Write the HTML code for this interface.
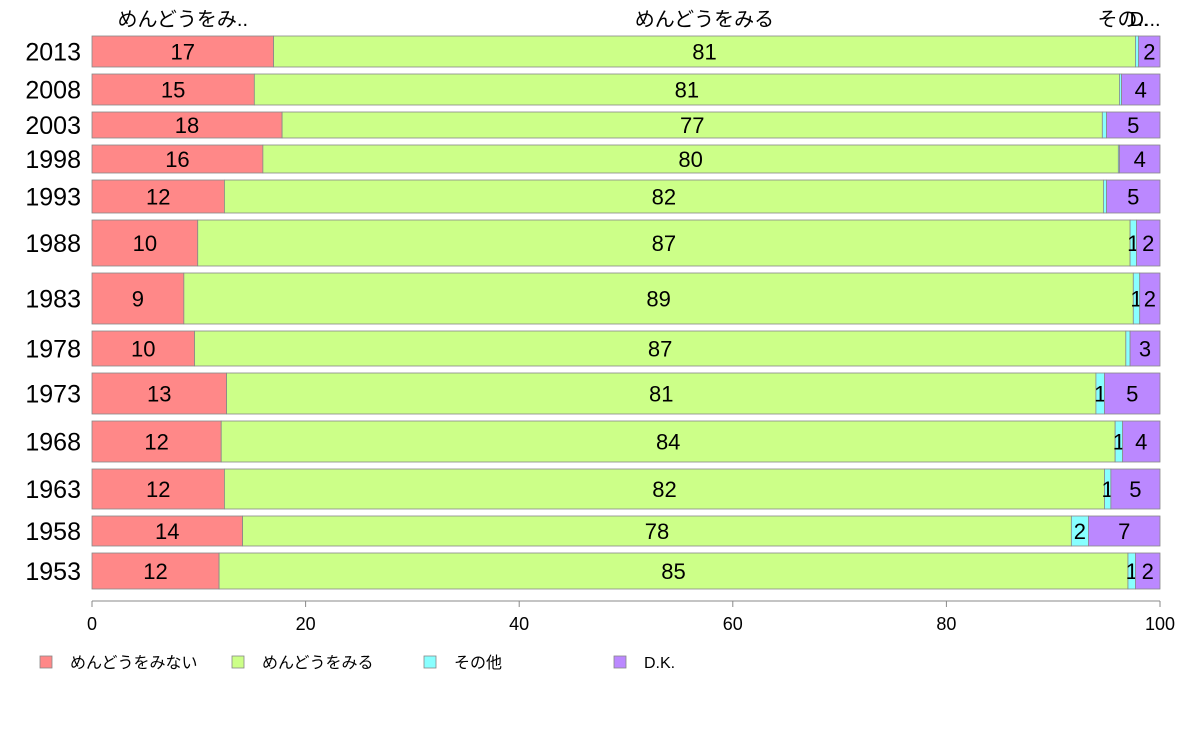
<!DOCTYPE html>
<html><head><meta charset="utf-8">
<style>
html,body{margin:0;padding:0;background:#fff;}
svg{display:block;font-family:"Liberation Sans","Noto Sans CJK JP",sans-serif;}
</style></head>
<body>
<svg id="chart" width="1188" height="736" viewBox="0 0 1188 736" xmlns="http://www.w3.org/2000/svg">
<g id="bars"></g>
<g id="axis"></g>
<g id="legend"></g>
<g id="header"></g>
</svg>
<script>
const years = ["2013","2008","2003","1998","1993","1988","1983","1978","1973","1968","1963","1958","1953"];
const weights = [31,31,26,28,33,46,51,35,41,41,40,30,36];
const seriesNames = ["めんどうをみない","めんどうをみる","その他","D.K."];
const notCare = [17.0,15.2,17.8,16.0,12.4,9.9,8.6,9.6,12.6,12.1,12.4,14.1,11.9];
const care    = [80.7,81.0,76.8,80.1,82.3,87.3,88.9,87.2,81.4,83.7,82.4,77.6,85.1];
const other   = [0.3,0.2,0.4,0.1,0.3,0.6,0.6,0.4,0.8,0.7,0.6,1.6,0.7];
const dk      = [2.0,3.6,5.0,3.8,5.0,2.2,1.9,2.8,5.2,3.5,4.6,6.7,2.3];
const ticks = [0,20,40,60,80,100];
const headerLabels = ["めんどうをみ..","めんどうをみる","その..","D..."];

const colors = ["#FF8888","#CCFF88","#88FFFF","#BB88FF"];
const NS = "http://www.w3.org/2000/svg";
const X0 = 92, X1 = 1160, TOP = 36, GAP = 7;
const x = v => X0 + (X1 - X0) * v / 100;
function mk(tag, attrs, parent, text){
  const e = document.createElementNS(NS, tag);
  for (const k in attrs) e.setAttribute(k, attrs[k]);
  if (text !== undefined) e.textContent = text;
  parent.appendChild(e); return e;
}
const series = [notCare, care, other, dk];
const barsG = document.getElementById("bars");
let y = TOP;
years.forEach((yr, i) => {
  const h = weights[i];
  const yl = mk("text", {x: 81, y: y + h/2 + 9, "text-anchor": "end", "font-size": 25, fill: "#000"}, barsG, yr);
  
  
  let cum = 0;
  series.forEach((s, j) => {
    const v = s[i];
    const r = mk("rect", {x: x(cum), y: y, width: x(cum + v) - x(cum), height: h, fill: colors[j], stroke: "#888", "stroke-width": 0.8}, barsG);
    
    
    const t = mk("text", {x: (x(cum) + x(cum + v)) / 2, y: y + h/2 + 8, "text-anchor": "middle", "font-size": 22, fill: "#000"}, barsG, String(Math.round(v)));
    
    
    if (Math.round(v) === 0) t.remove();
    cum += v;
  });
  y += h + GAP;
});
const axisG = document.getElementById("axis");
const axisY = y - GAP + 12;
const al = mk("line", {x1: X0, x2: X1, y1: axisY, y2: axisY, stroke: "#888", "stroke-width": 1}, axisG);


ticks.forEach(t => {
  const tl = mk("line", {x1: x(t), x2: x(t), y1: axisY, y2: axisY + 6, stroke: "#888"}, axisG);
  
  
  const tt = mk("text", {x: x(t), y: axisY + 29, "text-anchor": "middle", "font-size": 18}, axisG, String(t));
  
  
});
const legG = document.getElementById("legend");
const legX = [40, 232, 424, 614];
seriesNames.forEach((n, j) => {
  const r = mk("rect", {x: legX[j], y: 656, width: 12, height: 12, fill: colors[j], stroke: "#888", "stroke-width": 0.8}, legG);
  
  
  const t = mk("text", {x: legX[j] + 30, y: 668, "font-size": 16}, legG, n);
  
  
});
const hG = document.getElementById("header");
let c = 0;
const hx = [];
[notCare[0], care[0], other[0], dk[0]].forEach(v => { hx.push((x(c) + x(c + v)) / 2); c += v; });
hx[2] -= 14; hx[3] = 1145;
headerLabels.forEach((n, j) => {
  const t = mk("text", {x: hx[j], y: 26, "text-anchor": "middle", "font-size": 20}, hG, n);
  
  
});
</script>
</body></html>
